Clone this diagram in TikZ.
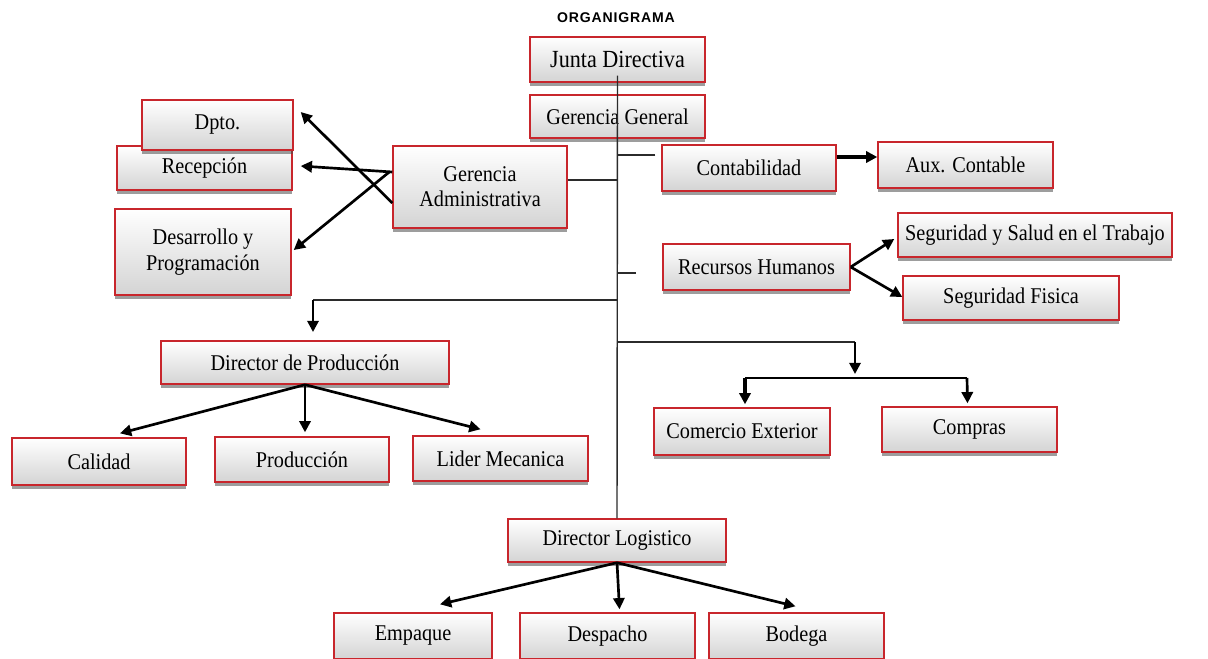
\documentclass[tikz,border=0pt]{standalone}
\usepackage{fontspec}
\setmainfont{Liberation Serif}[FakeStretch=0.9]
\newfontfamily\titlefont{Liberation Sans}[LetterSpace=6]
\usepackage{xcolor}
\definecolor{boxred}{HTML}{C8262C}
\definecolor{trunkline}{HTML}{2B2B2B}
\usetikzlibrary{arrows.meta, positioning, calc, shadows}

\begin{document}
\begin{tikzpicture}[
        x=0.025cm, y=-0.025cm,
        font=\fontsize{16}{18}\selectfont,
        org_box/.style={
            rectangle,
            draw=boxred,
            line width=1pt,
            top color=white,
            bottom color=black!17,
            align=center,
            inner sep=2pt,
            drop shadow={shadow xshift=0pt, shadow yshift=-2.5pt, opacity=0.55, fill=black!70}
        },
        trunk/.style={
            draw=trunkline,
            line width=1pt
        },
        arrow/.style={
            -{Triangle[length=8pt, width=8pt]},
            draw=black,
            line width=1.9pt
        }
    ]
    \useasboundingbox (0,0) rectangle (1208,658);

    % Title
    \node[font=\titlefont\bfseries\fontsize{10}{12}\selectfont] (title) at (616,18) {ORGANIGRAMA};

    % Top management
    \node[org_box, minimum width=4.375cm, minimum height=1.125cm, font=\fontsize{17.5}{19}\selectfont] (junta) at (617.5,59.5) {Junta Directiva};
    \node[org_box, minimum width=4.375cm, minimum height=1.075cm] (gerencia_gral) at (617.5,116.5) {Gerencia General};

    % Administrative branch (left)
    \node[org_box, minimum width=4.375cm, minimum height=1.1cm] (recepcion) at (204.5,168) {Recepción};
    \node[org_box, minimum width=3.775cm, minimum height=1.25cm] (dpto) at (217.5,125) {Dpto.};
    \node[org_box, minimum width=4.4cm, minimum height=2.15cm] (desarrollo) at (203,252) {Desarrollo y\\Programación};
    \node[org_box, minimum width=4.35cm, minimum height=2.05cm] (gerencia_adm) at (480,187) {Gerencia\\Administrativa};

    % Accounting and HR (right)
    \node[org_box, minimum width=4.35cm, minimum height=1.15cm] (contabilidad) at (749,168) {Contabilidad};
    \node[org_box, minimum width=4.375cm, minimum height=1.15cm] (aux_contable) at (965.5,165) {Aux. Contable};
    \node[org_box, minimum width=4.675cm, minimum height=1.15cm] (rrhh) at (756.5,267) {Recursos Humanos};
    \node[org_box, minimum width=6.85cm, minimum height=1.1cm] (sst) at (1035,235) {Seguridad y Salud en el Trabajo};
    \node[org_box, minimum width=5.4cm, minimum height=1.1cm] (seg_fisica) at (1011,298) {Seguridad Fisica};

    % Production
    \node[org_box, minimum width=7.2cm, minimum height=1.075cm] (dir_prod) at (305,362.5) {Director de Producción};
    \node[org_box, minimum width=4.35cm, minimum height=1.175cm] (calidad) at (99,461.5) {Calidad};
    \node[org_box, minimum width=4.35cm, minimum height=1.125cm] (produccion) at (302,459.5) {Producción};
    \node[org_box, minimum width=4.375cm, minimum height=1.125cm] (lider_mec) at (500.5,458.5) {Lider Mecanica};

    % Purchasing
    \node[org_box, minimum width=4.4cm, minimum height=1.175cm] (comercio) at (742,431.5) {Comercio Exterior};
    \node[org_box, minimum width=4.375cm, minimum height=1.125cm] (compras) at (969.5,429.5) {Compras};

    % Logistics
    \node[org_box, minimum width=5.45cm, minimum height=1.075cm] (dir_log) at (617,540.5) {Director Logistico};
    \node[org_box, minimum width=3.95cm, minimum height=1.15cm] (empaque) at (413,636) {Empaque};
    \node[org_box, minimum width=4.375cm, minimum height=1.15cm] (despacho) at (607.5,636) {Despacho};
    \node[org_box, minimum width=4.375cm, minimum height=1.15cm] (bodega) at (796.5,636) {Bodega};

    % Helper coordinates
    \coordinate (adm_joint) at ($(gerencia_adm.east)+(0,-7)$);
    \coordinate (cont_joint) at ($(contabilidad.west)+(-6,-13)$);
    \coordinate (rrhh_stub) at (636,273);
    \coordinate (prod_turn) at (313,300);
    \coordinate (prod_end) at (313,332);
    \coordinate (ext_turn) at (855,342);
    \coordinate (ext_end) at (855,374);
    \coordinate (ext_left) at (745,378);
    \coordinate (ext_right) at (967,378);

    % Main trunk
    \draw[trunk] ($(junta.south)+(0,-7)$) -- (dir_log.north);
    \draw[trunk] (adm_joint) -- (adm_joint -| dir_log.north);
    \draw[trunk] (cont_joint) -- (cont_joint -| dir_log.north);
    \draw[trunk] (rrhh_stub) -- (rrhh_stub -| dir_log.north);
    \draw[trunk] (prod_turn -| dir_log.north) -- (prod_turn);
    \draw[trunk] (ext_turn -| dir_log.north) -- (ext_turn);

    % Administrative arrows
    \draw[arrow] ($(gerencia_adm.west)+(0,16)$) -- ($(dpto.east)+(7,-13)$);
    \draw[arrow] ($(gerencia_adm.west)+(0,-15)$) -- ($(recepcion.east)+(8,-2)$);
    \draw[arrow] ($(gerencia_adm.west)+(-3,-15)$) -- ($(desarrollo.east)+(2,-2)$);

    % Accounting and HR arrows
    \draw[arrow, line width=2.8pt] ($(contabilidad.east)+(0,-11)$) -- ($(aux_contable.west)+(0,-8)$);
    \draw[arrow] (rrhh.east) -- ($(sst.west)+(-3,4)$);
    \draw[arrow] (rrhh.east) -- ($(seg_fisica.west)+(0,-1)$);

    % Production arrows
    \draw[arrow] (prod_turn) -- (prod_end);
    \draw[arrow] (dir_prod.south) -- ($(calidad.north)+(21,-4)$);
    \draw[arrow] (dir_prod.south) -- ($(produccion.north)+(3,-4)$);
    \draw[arrow] (dir_prod.south) -- ($(lider_mec.north)+(-20,-6)$);

    % Purchasing arrows
    \draw[arrow] (ext_turn) -- (ext_end);
    \draw[line width=1.4pt] (ext_left) -- (ext_right);
    \draw[arrow, line width=3pt] (ext_left) -- ($(comercio.north)+(3,-3)$);
    \draw[arrow] (ext_right) -- ($(compras.north)+(-2,-3)$);

    % Logistics arrows
    \draw[arrow] (dir_log.south) -- ($(empaque.north)+(27,-8)$);
    \draw[arrow] (dir_log.south) -- ($(despacho.north)+(12,-3)$);
    \draw[arrow] (dir_log.south) -- ($(bodega.north)+(-1,-6)$);
\end{tikzpicture}
\end{document}
